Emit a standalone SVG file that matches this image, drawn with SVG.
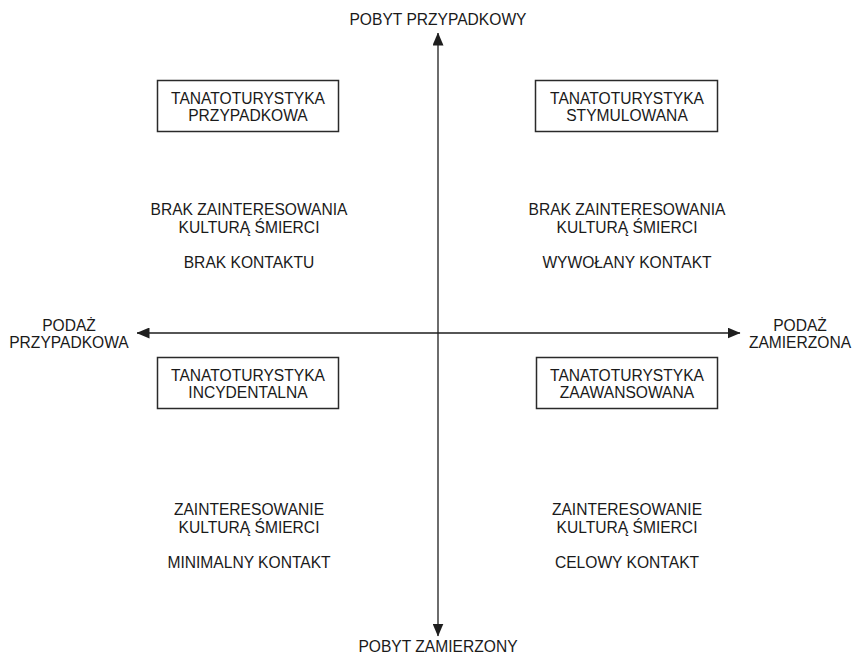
<svg xmlns="http://www.w3.org/2000/svg" width="853" height="655" viewBox="0 0 853 655">
  <style>
    text { font-family: "Liberation Sans", Arial, sans-serif; font-size: 15.6px; fill: #1a1a1a; text-anchor: middle; }
    .box { fill: #ffffff; stroke: #2a2a2a; stroke-width: 1.5; }
    .axis { stroke: #1e1e1e; stroke-width: 1.3; fill: none; }
  </style>
  <defs>
    <marker id="arrow" markerUnits="userSpaceOnUse" markerWidth="13" markerHeight="11" refX="12.5" refY="5.5" orient="auto-start-reverse">
      <path d="M0,0 L13,5.5 L0,11 Z" fill="#1e1e1e"/>
    </marker>
  </defs>

  <rect width="853" height="655" fill="#ffffff"/>

  <!-- axes -->
  <g id="connectors">
    <line class="axis" x1="438" y1="636" x2="438" y2="33" marker-start="url(#arrow)" marker-end="url(#arrow)"/>
    <line class="axis" x1="137" y1="333" x2="740" y2="333" marker-start="url(#arrow)" marker-end="url(#arrow)"/>
  </g>

  <!-- axis labels -->
  <g id="label-top"><text x="438" y="25">POBYT PRZYPADKOWY</text></g>
  <g id="label-bottom"><text x="438" y="652">POBYT ZAMIERZONY</text></g>
  <g id="label-left">
    <text x="69" y="331">PODAŻ</text>
    <text x="69" y="348">PRZYPADKOWA</text>
  </g>
  <g id="label-right">
    <text x="800" y="331">PODAŻ</text>
    <text x="800" y="348">ZAMIERZONA</text>
  </g>

  <!-- quadrant: top left -->
  <g id="q-przypadkowa">
    <rect class="box" x="157.5" y="80.5" width="181" height="51"/>
    <text x="248" y="104">TANATOTURYSTYKA</text>
    <text x="248" y="121">PRZYPADKOWA</text>
    <text x="249" y="215">BRAK ZAINTERESOWANIA</text>
    <text x="249" y="233">KULTURĄ ŚMIERCI</text>
    <text x="249" y="268">BRAK KONTAKTU</text>
  </g>

  <!-- quadrant: top right -->
  <g id="q-stymulowana">
    <rect class="box" x="535.5" y="80.5" width="182" height="51"/>
    <text x="627" y="104">TANATOTURYSTYKA</text>
    <text x="627" y="121">STYMULOWANA</text>
    <text x="627" y="215">BRAK ZAINTERESOWANIA</text>
    <text x="627" y="233">KULTURĄ ŚMIERCI</text>
    <text x="627" y="268">WYWOŁANY KONTAKT</text>
  </g>

  <!-- quadrant: bottom left -->
  <g id="q-incydentalna">
    <rect class="box" x="157.5" y="357.5" width="181" height="51"/>
    <text x="248" y="381">TANATOTURYSTYKA</text>
    <text x="248" y="398">INCYDENTALNA</text>
    <text x="249" y="515">ZAINTERESOWANIE</text>
    <text x="249" y="533">KULTURĄ ŚMIERCI</text>
    <text x="249" y="568">MINIMALNY KONTAKT</text>
  </g>

  <!-- quadrant: bottom right -->
  <g id="q-zaawansowana">
    <rect class="box" x="536.5" y="357.5" width="181" height="51"/>
    <text x="627" y="381">TANATOTURYSTYKA</text>
    <text x="627" y="398">ZAAWANSOWANA</text>
    <text x="627" y="515">ZAINTERESOWANIE</text>
    <text x="627" y="533">KULTURĄ ŚMIERCI</text>
    <text x="627" y="568">CELOWY KONTAKT</text>
  </g>
</svg>
